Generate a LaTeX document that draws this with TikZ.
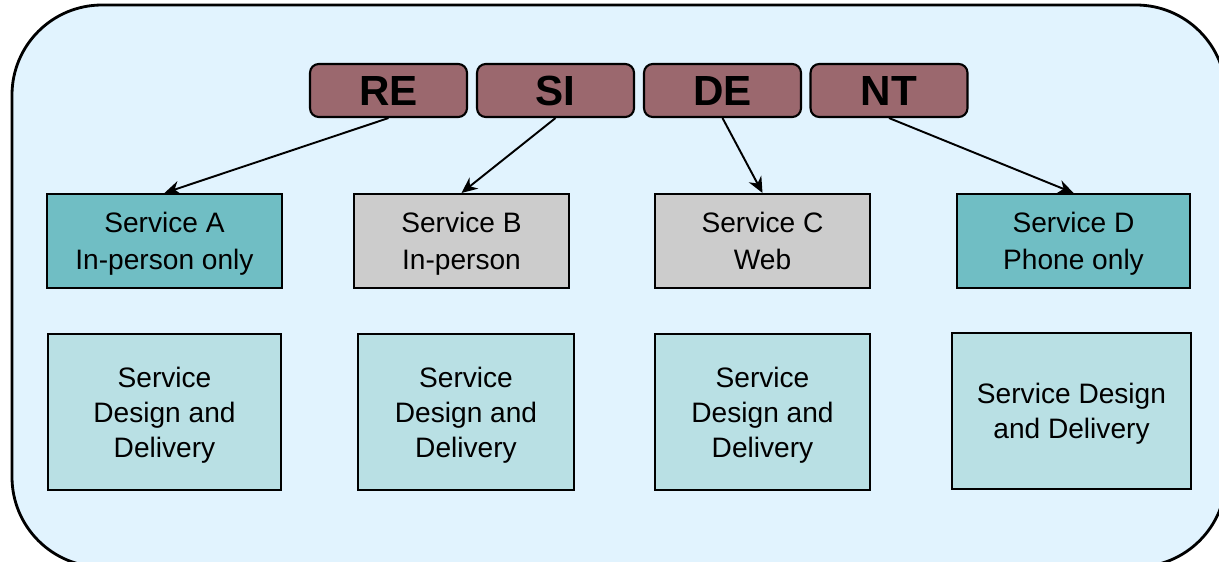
\documentclass[tikz,border=0pt]{standalone}
\usepackage{fontspec}
\setmainfont{Liberation Sans}
\usetikzlibrary{arrows.meta}
\definecolor{skyback}{RGB}{225,243,254}
\definecolor{mauve}{RGB}{155,104,110}
\definecolor{tealbox}{RGB}{112,190,196}
\definecolor{greybox}{RGB}{204,204,204}
\definecolor{paleteal}{RGB}{185,224,228}
\tikzset{
  letters/.style={draw, rounded corners=5pt, line width=1.2pt, fill=mauve,
    minimum width=3.14cm, minimum height=1.06cm, inner sep=0pt,
    font=\fontsize{24}{26}\selectfont\bfseries},
  service/.style={draw, line width=1.2pt, minimum height=1.88cm, inner sep=0pt,
    align=center, text depth=0pt, font=\fontsize{16}{21}\selectfont},
  design/.style={draw, fill=paleteal, line width=1.2pt, minimum height=3.12cm,
    inner sep=0pt, align=center, text depth=0pt, font=\fontsize{16}{20}\selectfont},
  link/.style={draw, line width=1.1pt, -{Stealth[length=9pt,width=8pt]}}
}
\begin{document}
\begin{tikzpicture}[x=0.02cm,y=-0.02cm]
\clip (0,0) rectangle (1219,561);
\path[draw, line width=1.6pt, fill=skyback, rounded corners=1.8cm] (12,5) rectangle (1226,567);
% the four letter blocks
\node[letters] (re) at (388.5,90.5) {RE};
\node[letters] (si) at (555.5,90.5) {SI};
\node[letters] (de) at (722.5,90.5) {DE};
\node[letters] (nt) at (889,90.5) {NT};
% service channels
\node[service, fill=tealbox, minimum width=4.7cm] (a) at (164.5,241) {Service A\\In-person only};
\node[service, fill=greybox, minimum width=4.3cm] (b) at (461.5,241) {Service B\\In-person};
\node[service, fill=greybox, minimum width=4.3cm] (c) at (762.5,241) {Service C\\Web};
\node[service, fill=tealbox, minimum width=4.66cm] (d) at (1073.5,241) {Service D\\Phone only};
% design and delivery row
\node[design, minimum width=4.66cm] (a2) at (164.5,412) {Service\\Design and\\Delivery};
\node[design, minimum width=4.32cm] (b2) at (466,412) {Service\\Design and\\Delivery};
\node[design, minimum width=4.3cm] (c2) at (762.5,412) {Service\\Design and\\Delivery};
\node[design, minimum width=4.78cm] (d2) at (1071.5,411) {Service Design\\and Delivery};
\path[link] (re.south) -- (a.north);
\path[link] (si.south) -- (b.north);
\path[link] (de.south) -- (c.north);
\path[link] (nt.south) -- (d.north);
\end{tikzpicture}
\end{document}
